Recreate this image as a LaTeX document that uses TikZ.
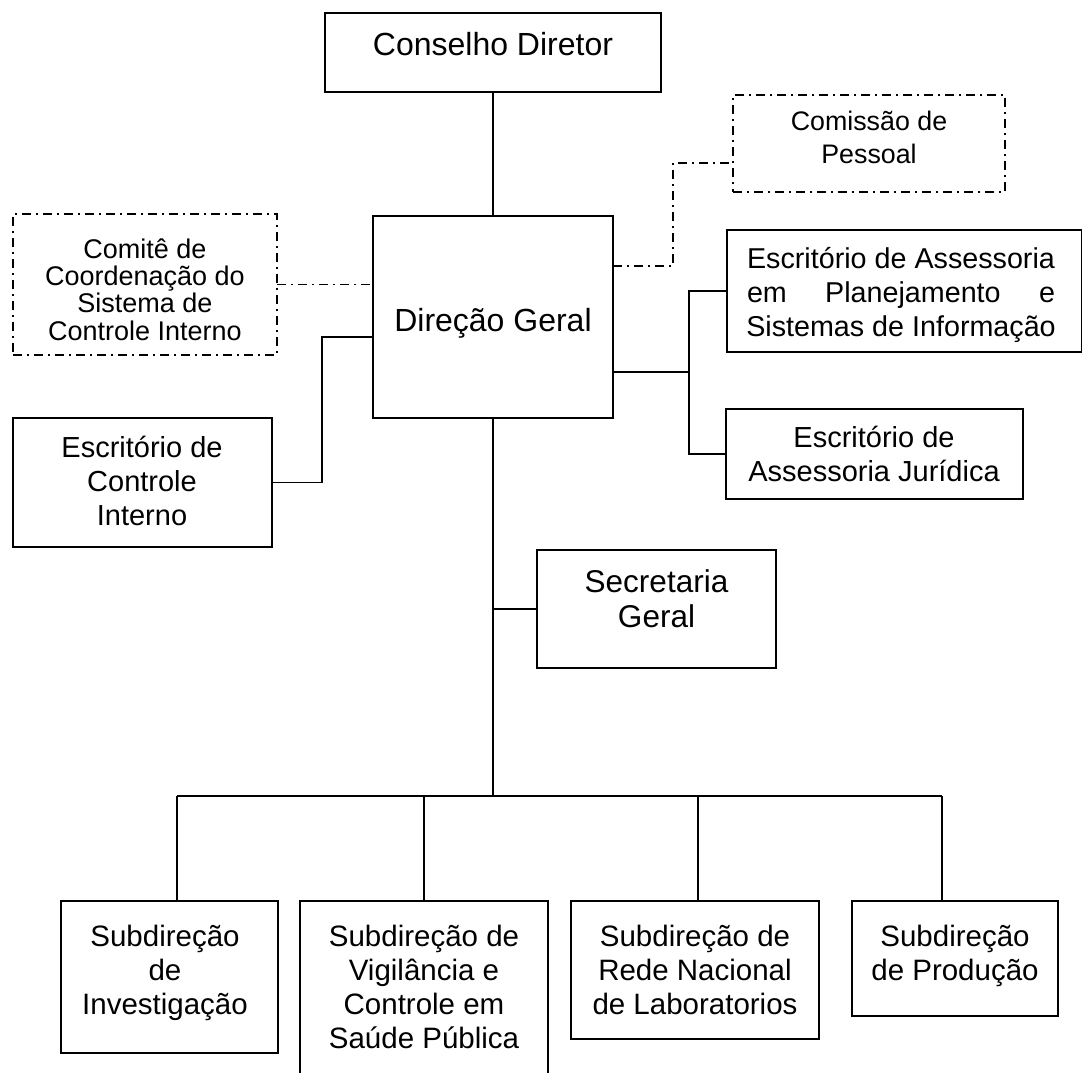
\documentclass[tikz,border=0pt]{standalone}
\usepackage{fontspec}
\setmainfont{Liberation Sans}
\begin{document}
\begin{tikzpicture}[x=1pt,y=-1pt,
  dashdot/.style={dash pattern=on 9pt off 5pt on 2pt off 5pt},
  box/.style={draw, line width=1.7pt, anchor=north west, inner sep=0pt, outer sep=0pt},
  dbox/.style={box, dashdot},
  ln/.style={line width=1.7pt},
  dln/.style={line width=1.7pt, dashdot},
  txt/.style={align=center, inner sep=0pt, anchor=base},
  fbig/.style={txt, font=\fontsize{32}{37}\selectfont},
  fmid/.style={txt, font=\fontsize{29}{34}\selectfont},
  fsec/.style={txt, font=\fontsize{31.5}{35}\selectfont},
  fcomite/.style={txt, font=\fontsize{27}{27.3}\selectfont},
  fcomissao/.style={txt, font=\fontsize{26.8}{33}\selectfont},
  fsub/.style={txt, font=\fontsize{29.5}{34}\selectfont},
]
\useasboundingbox (0,0) rectangle (1082,1072);

% boxes
\node[box, minimum width=336pt, minimum height=79pt] (cons) at (325,13) {};
\node[box, minimum width=240pt, minimum height=202pt] (dg) at (373,216) {};
\node[dbox, minimum width=264pt, minimum height=141pt] (comite) at (13,214) {};
\node[dbox, minimum width=272pt, minimum height=97pt] (comissao) at (733,95) {};
\node[box, minimum width=355pt, minimum height=122pt] (plan) at (727,230) {};
\node[box, minimum width=297pt, minimum height=90pt] (jur) at (726,409) {};
\node[box, minimum width=259pt, minimum height=129pt] (ctl) at (13,418) {};
\node[box, minimum width=239pt, minimum height=118pt] (sec) at (537,550) {};
\node[box, minimum width=217pt, minimum height=152pt] (s1) at (61,901) {};
\node[box, minimum width=248pt, minimum height=184pt] (s2) at (300,901) {};
\node[box, minimum width=248pt, minimum height=138pt] (s3) at (571,901) {};
\node[box, minimum width=206pt, minimum height=115pt] (s4) at (852,901) {};

% texts (anchor base = baseline of the last line)
\node[fbig] (tcons) at (493,55) {Conselho Diretor};
\node[fbig] (tdg) at (493,331) {Direção Geral};
\node[fcomite] (tcomite) at (145,340) {Comitê de\\Coordenação do\\Sistema de\\Controle Interno};
\node[fcomissao] (tcomissao) at (869,163) {Comissão de\\Pessoal};
\node[txt, font=\fontsize{28.7}{34}\selectfont] (tplan) at (901,336)
  {Escritório de Assessoria\\\makebox[308pt][s]{em\hfill Planejamento\hfill e}\\Sistemas de Informação};
\node[fmid] (tjur) at (874,481) {Escritório de\\Assessoria Jurídica};
\node[fmid] (tctl) at (142,525) {Escritório de\\Controle\\Interno};
\node[fsec] (tsec) at (656.5,627) {Secretaria\\Geral};
\node[fsub] (ts1) at (165,1014) {Subdireção\\de\\Investigação};
\node[fsub] (ts2) at (424,1048) {Subdireção de\\Vigilância e\\Controle em\\Saúde Pública};
\node[fsub] (ts3) at (695,1014) {Subdireção de\\Rede Nacional\\de Laboratorios};
\node[fsub] (ts4) at (955,980) {Subdireção\\de Produção};

% connectors
\draw[ln] (cons.south) -- (dg.north);
\draw[dln] (comite.east) -- (comite.east -| dg.west);
\coordinate (c1) at (322,337);
\draw[ln] (dg.west |- c1) -- (c1) |- (ctl.east);
\coordinate (c2) at (673,266);
\coordinate (c3) at (673,163);
\draw[dln] (dg.east |- c2) -- (c2) -- (c3) -- (c3 -| comissao.west);
\coordinate (c4) at (689,372);
\draw[ln] (dg.east |- c4) -- (c4);
\draw[ln] (plan.west) -| (c4) |- (jur.west);
\coordinate (bus) at (493,796);
\draw[ln] (dg.south) -- (bus);
\draw[ln] (dg.south |- sec.west) -- (sec.west);
\coordinate (busL) at (177,796);
\coordinate (busR) at (942,796);
\coordinate (d2) at (424,796);
\coordinate (d3) at (698,796);
\draw[line width=2.2pt] (busL) -- (busR);
\draw[ln] (busL) -- (busL |- s1.north);
\draw[ln] (d2) -- (d2 |- s2.north);
\draw[ln] (d3) -- (d3 |- s3.north);
\draw[ln] (busR) -- (busR |- s4.north);
\end{tikzpicture}
\end{document}
